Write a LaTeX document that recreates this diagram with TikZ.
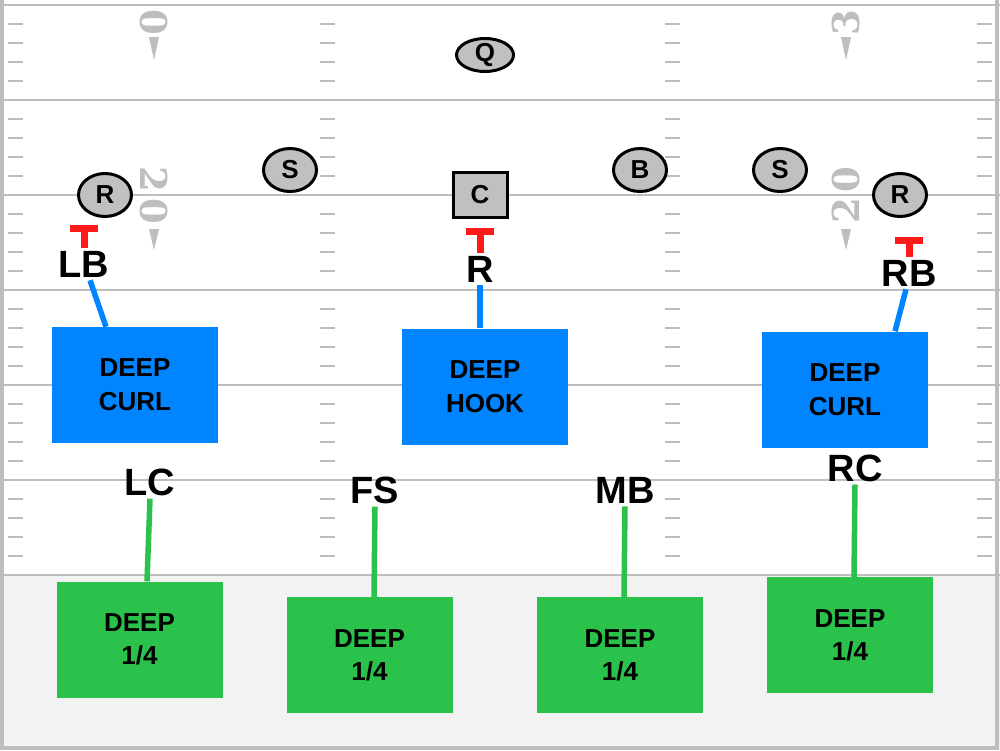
\documentclass[tikz,border=0pt]{standalone}
\usepackage{fontspec}
\setsansfont{Liberation Sans}
\newfontfamily\yardFont{DejaVu Serif}
\usetikzlibrary{shapes.geometric, positioning}
\definecolor{fieldGray}{HTML}{BEBEBE}
\definecolor{endZone}{HTML}{F2F2F2}
\definecolor{playerGray}{HTML}{C0C0C0}
\definecolor{zoneBlue}{HTML}{0084FF}
\definecolor{zoneGreen}{HTML}{2AC24A}
\definecolor{blockRed}{HTML}{FF1A1A}
\tikzstyle{yardLine} = [fieldGray, line width=2pt]
\tikzstyle{hashMark} = [fieldGray, line width=2pt]
\tikzstyle{yardNum} = [text=fieldGray, inner sep=0pt, font=\yardFont\bfseries\fontsize{37}{37}\selectfont]
\tikzstyle{offense} = [ellipse, draw=black, line width=3pt, fill=playerGray, minimum width=53pt, minimum height=43pt, inner sep=0pt, font=\sffamily\bfseries\fontsize{26}{26}\selectfont]
\tikzstyle{centerBox} = [rectangle, draw=black, line width=3pt, fill=playerGray, minimum width=54pt, minimum height=45pt, inner sep=0pt, font=\sffamily\bfseries\fontsize{26}{26}\selectfont]
\tikzstyle{defender} = [inner sep=3pt, font=\sffamily\bfseries\fontsize{38}{38}\selectfont]
\tikzstyle{curlBox} = [rectangle, fill=zoneBlue, minimum width=166pt, minimum height=116pt, align=center, font=\sffamily\bfseries\fontsize{26}{34}\selectfont]
\tikzstyle{quarterBox} = [rectangle, fill=zoneGreen, minimum width=166pt, minimum height=116pt, align=center, font=\sffamily\bfseries\fontsize{26}{33}\selectfont]
\tikzstyle{blueLine} = [zoneBlue, line width=5.5pt]
\tikzstyle{greenLine} = [zoneGreen, line width=5.5pt]
\tikzstyle{blockT} = [blockRed, line width=7pt]

\begin{document}
\begin{tikzpicture}[x=1pt, y=-1pt, node distance=120pt]
\useasboundingbox (0,0) rectangle (1000,750);

% field
\fill[white] (0,0) rectangle (1000,575);
\fill[endZone] (0,575) rectangle (1000,750);
\foreach \y in {5,100,...,575} \draw[yardLine] (0,\y) -- (1000,\y);
\foreach \y in {5,100,...,480}
  \foreach \x in {8,320,665,977}
    \foreach \d in {19,38,57,76}
      \draw[hashMark] (\x,\y+\d) -- (\x+15,\y+\d);
\draw[fieldGray, line width=3.5pt] (1.75,0) -- (1.75,748) -- (997,748) -- (997,0);

% yard numbers
\node (numTL) [yardNum, rotate=-90] at (153.5,22.5) {0};
\node (numL) [yardNum, rotate=-90] at (153.5,195) {2\kern6pt0};
\node (numTR) [yardNum, rotate=90] at (846,23) {3};
\node (numR) [yardNum, rotate=90] at (846,195) {2\kern6pt0};
\fill[fieldGray] (149,37) -- (159,37) -- (154,60) -- cycle;
\fill[fieldGray] (149,229) -- (159,229) -- (154,250) -- cycle;
\fill[fieldGray] (841,37) -- (851,37) -- (846,60) -- cycle;
\fill[fieldGray] (841,229) -- (851,229) -- (846,250) -- cycle;

% offense
\node (Q) [offense, minimum width=57pt, minimum height=33pt] at (485,55) {Q};
\node (recL) [offense] at (105,195) {R};
\node (safL) [offense] at (290,170) {S};
\node (C) [centerBox] at (480,195) {C};
\node (back) [offense] at (640,170) {B};
\node (safR) [offense] at (780,170) {S};
\node (recR) [offense] at (900,195) {R};

% defense
\node (LB) [defender] at (84,264) {LB};
\node (Rlbl) [defender] at (480,269) {R};
\node (RB) [defender] at (909,273) {RB};
\node (LC) [defender] at (150,482) {LC};
\node (FS) [defender] at (375,490) {FS};
\node (MB) [defender] at (625,490) {MB};
\node (RC) [defender] at (855,468) {RC};

\draw [blockT] (LB.north) -- ++(0,-19) ++(-14,0) -- ++(28,0);
\draw [blockT] (Rlbl.north) -- ++(0,-21) ++(-14,0) -- ++(28,0);
\draw [blockT] (RB.north) -- ++(0,-16) ++(-14,0) -- ++(28,0);

% zones
\node (curlL) [curlBox, below of=LB, xshift=51pt, node distance=121pt] {DEEP\\CURL};
\node (hook) [curlBox, below of=Rlbl, xshift=5pt, node distance=117.5pt] {DEEP\\HOOK};
\node (curlR) [curlBox, below of=RB, xshift=-64pt, node distance=116.5pt] {DEEP\\CURL};
\node (dqL) [quarterBox, below of=LC, xshift=-10.5pt, node distance=157.5pt] {DEEP\\1/4};
\node (dqFS) [quarterBox, below of=FS, xshift=-5.5pt, node distance=165pt] {DEEP\\1/4};
\node (dqMB) [quarterBox, below of=MB, xshift=-5pt, node distance=165pt] {DEEP\\1/4};
\node (dqRC) [quarterBox, below of=RC, xshift=-5pt, node distance=167pt] {DEEP\\1/4};

\draw [blueLine] ([xshift=6pt]LB.south) -- ([xshift=-29pt]curlL.north);
\draw [blueLine] (Rlbl.south) -- (Rlbl.south |- hook.north);
\draw [blueLine] ([xshift=-3pt]RB.south) -- ([xshift=50pt]curlR.north);
\draw [greenLine] (LC.south) -- ([xshift=7.5pt]dqL.north);
\draw [greenLine] (FS.south) -- ([xshift=4.5pt]dqFS.north);
\draw [greenLine] (MB.south) -- ([xshift=4pt]dqMB.north);
\draw [greenLine] (RC.south) -- ([xshift=4pt]dqRC.north);
\end{tikzpicture}
\end{document}
